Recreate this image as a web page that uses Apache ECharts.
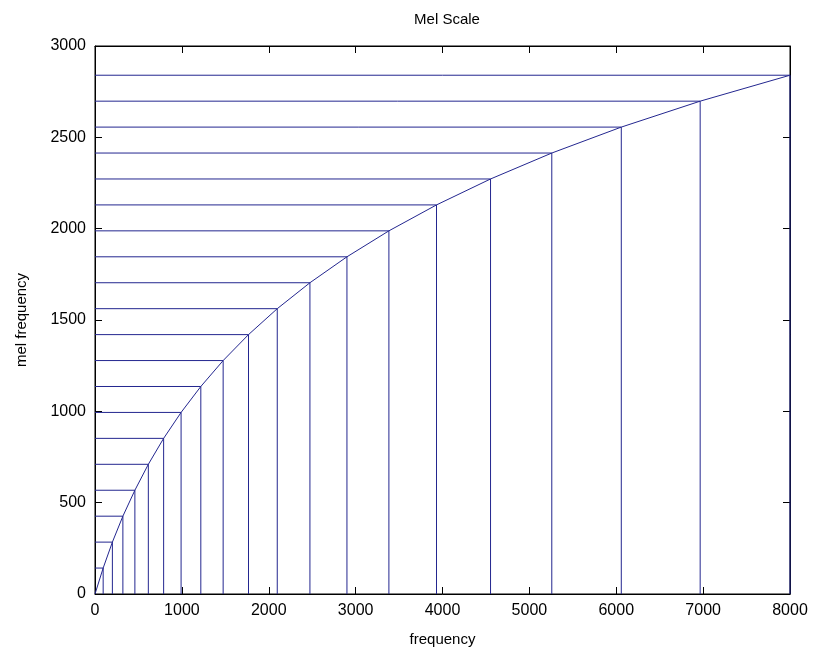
<!DOCTYPE html>
<html>
<head>
<meta charset="utf-8">
<script src="https://cdn.jsdelivr.net/npm/echarts@6/dist/echarts.min.js"></script>
<style>html,body{margin:0;padding:0;background:#fff;}#c{width:814px;height:658px;}</style>
</head>
<body>
<div id="c"></div>
<script>
// Mel filter breakpoints
const freqValues = [0, 94, 200, 321, 459, 614, 790, 991, 1218, 1475, 1767, 2098, 2474, 2900, 3383, 3931, 4553, 5258, 6058, 6966, 8000];
const melValues  = [0, 142, 284, 426, 568, 710, 852, 994, 1136, 1278, 1420, 1562, 1704, 1846, 1988, 2130, 2272, 2414, 2556, 2698, 2840];
const xTicks = [0, 1000, 2000, 3000, 4000, 5000, 6000, 7000, 8000];
const yTicks = [0, 500, 1000, 1500, 2000, 2500, 3000];

const lineColor = '#23268f';
const font = 'Liberation Sans, Arial, sans-serif';

const chart = echarts.init(document.getElementById('c'));

const series = [];
for (let i = 1; i < freqValues.length; i++) {
  series.push({
    type: 'line',
    xAxisIndex: 0, yAxisIndex: 0,
    data: [[0, melValues[i]], [freqValues[i], melValues[i]], [freqValues[i], 0]],
    showSymbol: false,
    silent: true,
    lineStyle: { color: lineColor, width: 1 },
    animation: false
  });
}
series.push({
  type: 'line',
  xAxisIndex: 0, yAxisIndex: 0,
  data: freqValues.map((f, i) => [f, melValues[i]]),
  showSymbol: false,
  lineStyle: { color: lineColor, width: 1 },
  animation: false
});
// empty series so the top/right mirror axes are drawn
series.push({
  type: 'line', xAxisIndex: 1, yAxisIndex: 1, data: [], showSymbol: false, silent: true
});

function axisBase(extra) {
  return Object.assign({
    type: 'value',
    axisLine: { show: true, onZero: false, lineStyle: { color: '#000', width: 1 } },
    axisTick: { show: true, inside: true, length: 7, lineStyle: { color: '#000', width: 1 } },
    splitLine: { show: false }
  }, extra);
}
const labelStyle = { fontFamily: font, fontSize: 16, color: '#000', margin: 9, formatter: v => String(v) };

chart.setOption({
  backgroundColor: '#fff',
  animation: false,
  title: {
    text: 'Mel Scale',
    left: 442, top: 7, textAlign: 'center',
    textStyle: { fontFamily: font, fontSize: 15, fontWeight: 'normal', color: '#000' }
  },
  grid: { left: 95, right: 24, top: 46, bottom: 64, show: true, borderColor: '#000', borderWidth: 1, backgroundColor: 'transparent' },
  xAxis: [
    axisBase({
      position: 'bottom', min: xTicks[0], max: xTicks[xTicks.length - 1], interval: 1000,
      name: 'frequency', nameLocation: 'middle', nameGap: 38,
      nameTextStyle: { fontFamily: font, fontSize: 15, color: '#000' },
      axisLabel: labelStyle
    }),
    axisBase({
      position: 'top', min: xTicks[0], max: xTicks[xTicks.length - 1], interval: 1000,
      axisLabel: { show: false }
    })
  ],
  yAxis: [
    axisBase({
      position: 'left', min: yTicks[0], max: yTicks[yTicks.length - 1], interval: 500,
      name: 'mel frequency', nameLocation: 'middle', nameGap: 66,
      nameTextStyle: { fontFamily: font, fontSize: 15, color: '#000' },
      axisLabel: labelStyle
    }),
    axisBase({
      position: 'right', min: yTicks[0], max: yTicks[yTicks.length - 1], interval: 500,
      axisLabel: { show: false }
    })
  ],
  series: series
});
</script>
</body>
</html>
